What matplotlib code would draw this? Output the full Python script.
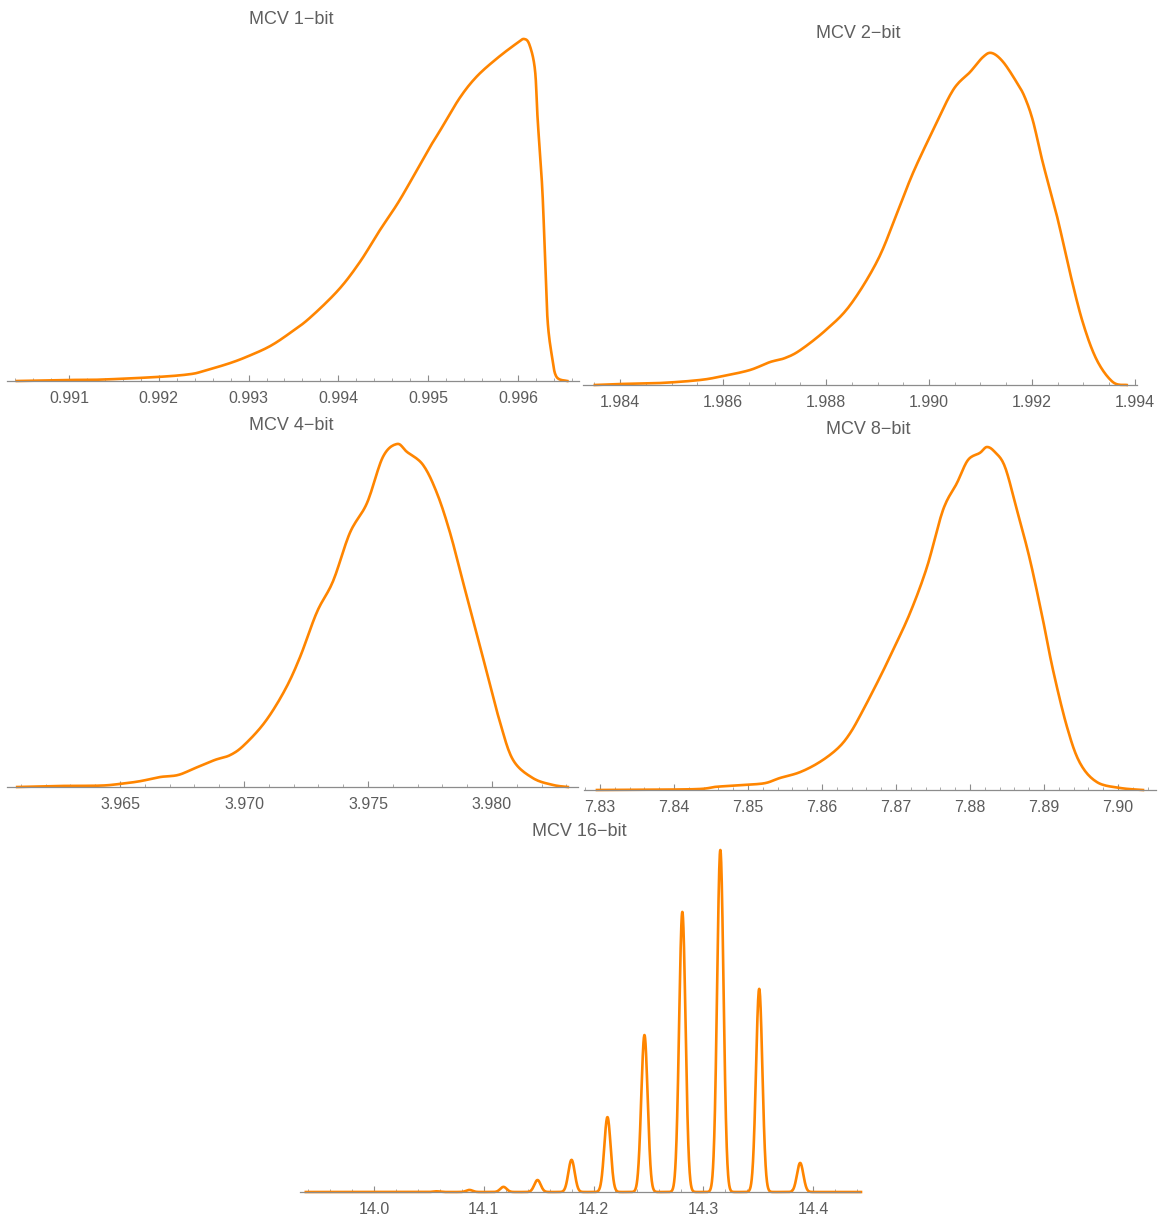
import numpy as np
import matplotlib
matplotlib.use("Agg")
import matplotlib.pyplot as plt
from matplotlib.ticker import MultipleLocator, FormatStrFormatter

# ---------------- data ----------------
titles = ["MCV 1\u2212bit", "MCV 2\u2212bit", "MCV 4\u2212bit", "MCV 8\u2212bit", "MCV 16\u2212bit"]

x1 = [0.99042, 0.99100, 0.99135, 0.99200, 0.99235, 0.99251, 0.99279, 0.99300, 0.99324,
      0.99346, 0.99368, 0.99400, 0.99424, 0.99446, 0.99469, 0.99500, 0.99513, 0.99535,
      0.99554, 0.99577, 0.99599, 0.99607, 0.99613, 0.99619, 0.99622, 0.99627, 0.99630,
      0.99633, 0.99638, 0.99643, 0.99655]
d1 = [0.000, 0.003, 0.004, 0.012, 0.020, 0.030, 0.052, 0.073, 0.102,
      0.140, 0.184, 0.266, 0.348, 0.440, 0.532, 0.675, 0.731, 0.827,
      0.890, 0.944, 0.988, 1.000, 0.982, 0.909, 0.763, 0.567, 0.374,
      0.178, 0.070, 0.012, 0.000]

x2 = [1.98351, 1.98400, 1.98478, 1.98555, 1.98600, 1.98652, 1.98691, 1.98720, 1.98750,
      1.98800, 1.98847, 1.98900, 1.98938, 1.98969, 1.99008, 1.99047, 1.99080, 1.99105,
      1.99122, 1.99144, 1.99171, 1.99186, 1.99202, 1.99221, 1.99249, 1.99274, 1.99299,
      1.99326, 1.99357, 1.99384]
d2 = [0.000, 0.003, 0.006, 0.015, 0.027, 0.045, 0.069, 0.081, 0.105,
      0.166, 0.241, 0.375, 0.518, 0.639, 0.768, 0.889, 0.943, 0.988,
      1.000, 0.973, 0.910, 0.867, 0.795, 0.670, 0.506, 0.337, 0.187,
      0.075, 0.009, 0.000]

x3 = [3.96085, 3.96258, 3.96419, 3.96500, 3.96581, 3.96661, 3.96734, 3.96802, 3.96883,
      3.96944, 3.97000, 3.97085, 3.97165, 3.97226, 3.97294, 3.97359, 3.97427, 3.97496,
      3.97560, 3.97617, 3.97657, 3.97722, 3.97778, 3.97831, 3.97883, 3.97940, 3.97980,
      3.98032, 3.98085, 3.98165, 3.98246, 3.98306]
d3 = [0.000, 0.003, 0.004, 0.009, 0.017, 0.029, 0.035, 0.055, 0.079,
      0.093, 0.122, 0.190, 0.283, 0.379, 0.510, 0.600, 0.741, 0.828,
      0.962, 1.000, 0.977, 0.939, 0.857, 0.741, 0.598, 0.443, 0.332,
      0.190, 0.079, 0.026, 0.006, 0.000]

x4 = [7.82959, 7.83811, 7.84351, 7.84554, 7.84757, 7.84960, 7.85230, 7.85432, 7.85703,
      7.85973, 7.86216, 7.86378, 7.86541, 7.86784, 7.86960, 7.87190, 7.87419, 7.87635,
      7.87824, 7.87973, 7.88135, 7.88230, 7.88338, 7.88473, 7.88635, 7.88811, 7.88986,
      7.89122, 7.89311, 7.89486, 7.89716, 7.90027, 7.90338]
d4 = [0.000, 0.001, 0.003, 0.009, 0.012, 0.015, 0.020, 0.035, 0.052,
      0.082, 0.122, 0.165, 0.227, 0.329, 0.408, 0.516, 0.650, 0.816,
      0.895, 0.962, 0.983, 1.000, 0.985, 0.942, 0.816, 0.671, 0.496,
      0.350, 0.184, 0.079, 0.023, 0.006, 0.000]

# 16-bit: discrete support values and their relative weights (smoothed with a kernel)
peaks16 = [14.057, 14.087, 14.118, 14.149, 14.180, 14.2127, 14.2464, 14.2809, 14.3155, 14.3509, 14.3882]
weights16 = [0.002, 0.006, 0.015, 0.035, 0.094, 0.219, 0.459, 0.819, 1.000, 0.594, 0.085]
range16 = [13.938, 14.4436]

xlims = [(0.99031, 0.99668), (1.98328, 1.99404), (3.96044, 3.98347), (7.82784, 7.90514), (13.9327, 14.4427)]
major = [0.001, 0.002, 0.005, 0.01, 0.1]
minor = [0.0002, 0.0005, 0.001, 0.002, 0.02]
fmts = ["%.3f", "%.3f", "%.3f", "%.2f", "%.1f"]

# ---------------- layout (pixel boxes) ----------------
W, H = 1158, 1215
boxes = [  # x0, x1, ybase, ytop
    (7, 579, 381, 39),
    (583, 1137, 385, 53),
    (7, 578, 787, 444),
    (584, 1156, 790, 447),
    (300, 860, 1192, 850),
]
title_pos = [(291, 20), (858, 34), (291, 426), (868, 429), (579, 831)]

ORANGE = "#ff8500"
plt.rcParams['font.family'] = ['Liberation Sans', 'DejaVu Sans']

fig = plt.figure(figsize=(W / 100, H / 100), dpi=100)


def smooth(x, y, n=12):
    # Catmull-Rom style rendering between read points (for drawing only)
    x = np.asarray(x, float); y = np.asarray(y, float)
    xs, ys = [x[0]], [y[0]]
    for i in range(len(x) - 1):
        p0 = np.array([x[max(i - 1, 0)], y[max(i - 1, 0)]])
        p1 = np.array([x[i], y[i]]); p2 = np.array([x[i + 1], y[i + 1]])
        p3 = np.array([x[min(i + 2, len(x) - 1)], y[min(i + 2, len(x) - 1)]])
        for t in np.linspace(0, 1, n + 1)[1:]:
            t2, t3 = t * t, t * t * t
            p = 0.5 * ((2 * p1) + (-p0 + p2) * t + (2 * p0 - 5 * p1 + 4 * p2 - p3) * t2
                       + (-p0 + 3 * p1 - 3 * p2 + p3) * t3)
            xs.append(p[0]); ys.append(max(p[1], 0))
    return np.array(xs), np.array(ys)


series = [(x1, d1), (x2, d2), (x3, d3), (x4, d4)]

for i in range(5):
    x0, xe, yb, yt = boxes[i]
    ax = fig.add_axes([x0 / W, 1 - yb / H, (xe - x0) / W, (yb - yt) / H])
    if i < 4:
        xs, ys = smooth(*series[i])
        ax.plot(xs, ys, color=ORANGE, lw=1.9, clip_on=False, solid_joinstyle='round')
    else:
        grid = np.linspace(range16[0], range16[1], 4000)
        sig = 0.0029
        dens = np.zeros_like(grid)
        for p, w in zip(peaks16, weights16):
            dens += w * np.exp(-0.5 * ((grid - p) / sig) ** 2)
        ax.plot(grid, dens, color=ORANGE, lw=1.9, clip_on=False)
    ax.set_xlim(*xlims[i])
    ax.set_ylim(0, 1.0)
    for s in ['left', 'right', 'top']:
        ax.spines[s].set_visible(False)
    ax.spines['bottom'].set_color('#8c8c8c')
    ax.spines['bottom'].set_linewidth(0.9)
    ax.set_yticks([])
    ax.xaxis.set_major_locator(MultipleLocator(major[i]))
    ax.xaxis.set_minor_locator(MultipleLocator(minor[i]))
    ax.xaxis.set_major_formatter(FormatStrFormatter(fmts[i]))
    ax.tick_params(axis='x', which='major', direction='in', length=4, width=0.8,
                   color='#8c8c8c', labelsize=11.5, labelcolor='#5c5c5c', pad=7)
    ax.tick_params(axis='x', which='minor', direction='in', length=2.5, width=0.6,
                   color='#9c9c9c')
    ax.patch.set_alpha(0)
    ax.set_zorder(1)
    tx, ty = title_pos[i]
    fig.text(tx / W, 1 - ty / H, titles[i], ha='center', va='center',
             fontsize=13, color='#5f5f5f')

fig.savefig("out.png", dpi=100)
